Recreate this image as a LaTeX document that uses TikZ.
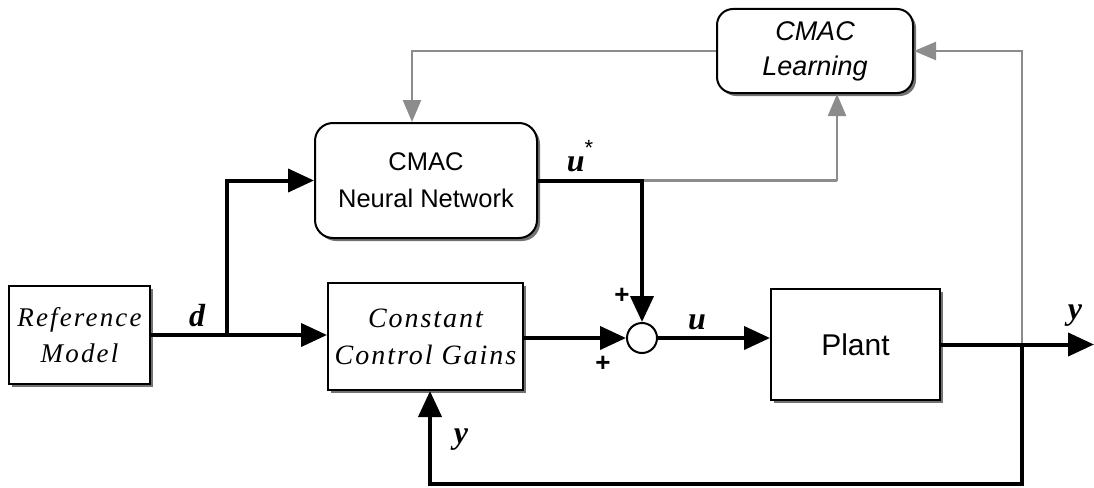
\documentclass[tikz,border=0pt]{standalone}
\usepackage{fontspec}
\setmainfont{Liberation Serif}
\setsansfont{Liberation Sans}
\usetikzlibrary{arrows.meta,shadows,calc}
\begin{document}
\begin{tikzpicture}[x=1pt,y=-1pt,
  blk/.style={draw=black,line width=2pt,fill=white,
    drop shadow={shadow xshift=3pt,shadow yshift=-3pt,fill=black!55,opacity=1},
    align=center,inner sep=0pt},
  rblk/.style={blk,rounded corners=18pt},
  sig/.style={line width=4pt,-{Triangle[length=26pt,width=23pt]}},
  sigline/.style={line width=4pt},
  gsig/.style={draw=black!45,line width=2.5pt,-{Triangle[length=22pt,width=18pt]}},
  gline/.style={draw=black!45,line width=2.5pt},
  lbl/.style={font=\fontsize{32}{34}\selectfont\bfseries\itshape,inner sep=0pt},
  plus/.style={font=\fontsize{26}{28}\selectfont\sffamily\bfseries,inner sep=0pt}
]
\useasboundingbox (0,0) rectangle (1094,487);
% blocks
\node[blk,minimum width=141pt,minimum height=98pt,
  font=\fontsize{27}{36}\selectfont\itshape\addfontfeature{LetterSpace=8}]
  (ref) at (79.5,335) {Reference\\Model};
\node[blk,minimum width=195pt,minimum height=107pt,
  font=\fontsize{28}{37}\selectfont\itshape\addfontfeature{LetterSpace=7}]
  (cg) at (425.5,336.5) {Constant\\Control Gains};
\node[rblk,minimum width=222pt,minimum height=115pt,
  font=\fontsize{25.5}{37}\selectfont\sffamily]
  (nn) at (426,180.5) {CMAC\\Neural Network};
\node[rblk,rounded corners=16pt,minimum width=196pt,minimum height=84pt,
  font=\fontsize{27}{35}\selectfont\sffamily\itshape]
  (learn) at (815,51) {CMAC\\Learning};
\node[blk,minimum width=169pt,minimum height=111pt,
  font=\fontsize{30}{32}\selectfont\sffamily]
  (plant) at (855.5,344.5) {Plant};
\node[draw=black,line width=2pt,fill=white,circle,minimum size=30pt,inner sep=0pt]
  (sum) at (642,338) {};
% coordinates
\coordinate (j) at (227,335);
\coordinate (tap) at (641,180.5);
\coordinate (ytap) at (1022,344.5);
\coordinate (yout) at (1094,344.5);
\coordinate (fb) at (1022,484);
% gray learning paths
\draw[gline] (tap) -- (837,180.5);
\draw[gsig] (837,180.5) -- ([xshift=22pt]learn.south);
\draw[gsig] (learn.west) -| ([xshift=-14pt]nn.north);
\draw[gsig] (ytap) |- (learn.east);
% black signal paths
\draw[sigline] (ref.east |- j) -- (j);
\draw[sig] (j) -- (cg.west |- j);
\draw[sig] (j) |- (nn.west);
\draw[sig] (nn.east) -| (sum.north);
\draw[sig] (cg.east |- sum) -- (sum.west);
\draw[sig] (sum.east) -- (plant.west |- sum);
\draw[sig] (plant.east |- yout) -- (yout);
\draw[sig] (ytap) -- (fb) -| ([xshift=4.5pt]cg.south);
% labels
\node[lbl] (ld) at (197,316) {d};
\node[lbl] (lus) at (580,156) {u\raisebox{0.5em}{\normalfont\sffamily\fontsize{22}{22}\selectfont *}};
\node[lbl] (lu) at (697,322) {u};
\node[lbl] (ly1) at (1075,316) {y};
\node[lbl] (ly2) at (461,440) {y};
\node[plus] (p1) at (622,296) {+};
\node[plus] (p2) at (603,364) {+};
\end{tikzpicture}
\end{document}
